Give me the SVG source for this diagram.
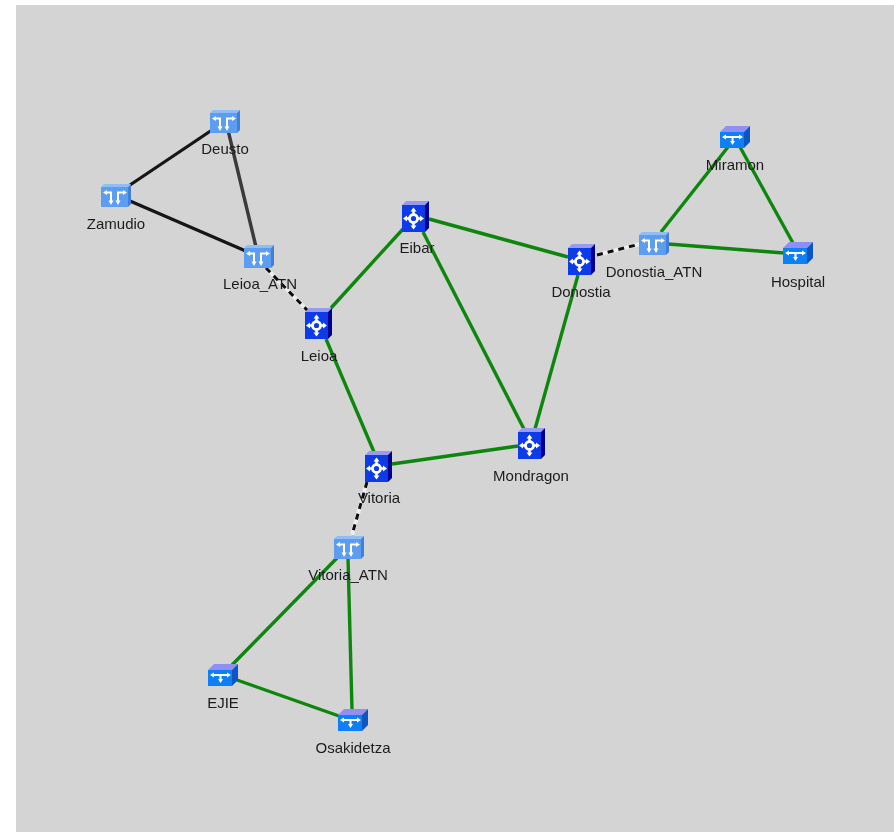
<svg xmlns="http://www.w3.org/2000/svg" width="894" height="832" viewBox="0 0 894 832">
<style>
.bg{fill:#d4d4d4}
.k{stroke:#141414;stroke-width:3.2;fill:none}
.k2{stroke:#3a3a3a;stroke-width:3.4;fill:none}
.g{stroke:#118611;stroke-width:3.4;fill:none}
.w{stroke:#eeeeee;stroke-width:4;fill:none}
.d{stroke:#111;stroke-width:3;fill:none;stroke-dasharray:6 5}
text{font-family:"Liberation Sans",Arial,sans-serif;font-size:15px;fill:#1c1c1c;text-anchor:middle}
.gl{stroke:#fff;stroke-width:2;fill:none}
.gf{fill:#fff}
</style>
<defs>
<filter id="soft" x="-5%" y="-5%" width="110%" height="110%"><feGaussianBlur stdDeviation="0.45"/></filter>
<g id="atn">
<polygon points="0,3 3,0 30,0 27,3" fill="#8fbdf5"/>
<polygon points="27,3 30,0 30,20 27,23" fill="#3f80d8"/>
<rect x="0" y="3" width="27" height="20" fill="#5b9df0"/>
<path class="gl" d="M4,8.500H10V18M24,8.500H17V18"/>
<path class="gf" d="M2,8.500L6,6V11ZM26,8.500L22,6V11ZM10,21L7.500,16.500H12.500ZM17,21L14.500,16.500H19.500Z"/>
</g>
<g id="router">
<polygon points="0,4 4,0 27,0 23,4" fill="#9a9af0"/>
<polygon points="23,4 27,0 27,27 23,31" fill="#00008c"/>
<rect x="0" y="4" width="23" height="27" fill="#0a3be8"/>
<path class="gl" style="stroke-width:2.500" d="M3,17.500H8M15,17.500H20M11.500,8V13M11.500,22V27"/>
<circle cx="11.500" cy="17.500" r="4" fill="#0a3be8" stroke="#fff" stroke-width="2.800"/>
<path class="gf" d="M1,17.500L5,14.500V20.500ZM22,17.500L18,14.500V20.500ZM11.500,6.500L8.500,10.500H14.500ZM11.500,28.500L8.500,24.500H14.500Z"/>
</g>
<g id="edge">
<polygon points="0,6 6,0 30,0 24,6" fill="#8f8ff5"/>
<polygon points="24,6 30,0 30,16 24,22" fill="#0a55c0"/>
<rect x="0" y="6" width="24" height="16" fill="#0a80f5"/>
<path class="gl" d="M4,11H21M12.500,11V17"/>
<path class="gf" d="M2,11L6,8.500V13.500ZM23,11L19,8.500V13.500ZM12.500,19L10,15H15Z"/>
</g>
</defs>
<rect class="bg" x="16" y="5" width="878" height="827"/>
<g filter="url(#soft)">
<g id="connectors">
<line class="k" x1="212" y1="130" x2="130" y2="185"/>
<line class="k" x1="130" y1="201" x2="248" y2="252"/>
<line class="k2" x1="228" y1="130" x2="256" y2="247"/>
<line class="w" x1="266" y1="268" x2="308" y2="311"/>
<line class="d" x1="266" y1="268" x2="308" y2="311"/>
<line class="g" x1="331" y1="308" x2="403" y2="229"/>
<line class="g" x1="326" y1="339" x2="374" y2="452"/>
<line class="g" x1="429" y1="219" x2="568" y2="257"/>
<line class="g" x1="423" y1="232" x2="525" y2="431"/>
<line class="g" x1="578" y1="275" x2="535" y2="429"/>
<line class="g" x1="392" y1="464" x2="518" y2="446"/>
<line class="w" x1="597" y1="255" x2="640" y2="244"/>
<line class="d" x1="597" y1="255" x2="640" y2="244"/>
<line class="g" x1="661" y1="232" x2="728" y2="147"/>
<line class="g" x1="740" y1="147" x2="793" y2="243"/>
<line class="g" x1="668" y1="244" x2="784" y2="253"/>
<line class="w" x1="367" y1="482" x2="352" y2="535"/>
<line class="d" x1="367" y1="482" x2="352" y2="535"/>
<line class="g" x1="337" y1="558" x2="232" y2="665"/>
<line class="g" x1="348" y1="558" x2="352" y2="710"/>
<line class="g" x1="237" y1="680" x2="339" y2="716"/>
</g>
<g id="Deusto"><use href="#atn" x="210" y="110"/><text x="225" y="154">Deusto</text></g>
<g id="Zamudio"><use href="#atn" x="101" y="184"/><text x="116" y="229">Zamudio</text></g>
<g id="Leioa_ATN"><use href="#atn" x="244" y="245"/><text x="260" y="289">Leioa_ATN</text></g>
<g id="Leioa"><use href="#router" x="305" y="308"/><text x="319" y="361">Leioa</text></g>
<g id="Eibar"><use href="#router" x="402" y="201"/><text x="417" y="253">Eibar</text></g>
<g id="Donostia"><use href="#router" x="568" y="244"/><text x="581" y="297">Donostia</text></g>
<g id="Donostia_ATN"><use href="#atn" x="639" y="232"/><text x="654" y="277">Donostia_ATN</text></g>
<g id="Miramon"><use href="#edge" x="720" y="126"/><text x="735" y="170">Miramon</text></g>
<g id="Hospital"><use href="#edge" x="783" y="242"/><text x="798" y="287">Hospital</text></g>
<g id="Mondragon"><use href="#router" x="518" y="428"/><text x="531" y="481">Mondragon</text></g>
<g id="Vitoria"><use href="#router" x="365" y="451"/><text x="379" y="503">Vitoria</text></g>
<g id="Vitoria_ATN"><use href="#atn" x="334" y="536"/><text x="348" y="580">Vitoria_ATN</text></g>
<g id="EJIE"><use href="#edge" x="208" y="664"/><text x="223" y="708">EJIE</text></g>
<g id="Osakidetza"><use href="#edge" x="338" y="709"/><text x="353" y="753">Osakidetza</text></g>
</g>
</svg>
